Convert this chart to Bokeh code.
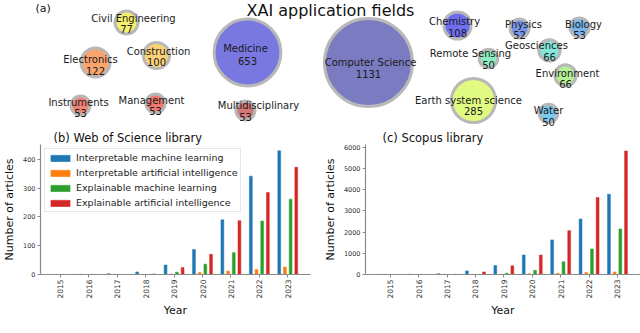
import numpy as np
from bokeh.plotting import figure
from bokeh.layouts import column, row
from bokeh.models import Range1d, FixedTicker, Legend, LegendItem, Label, Title
from bokeh.embed import file_html
from bokeh.resources import INLINE
from bokeh.core.properties import value

FONT = "DejaVu Sans"

# ---------------- (a) bubble chart data ----------------
fields = ["Computer Science", "Medicine", "Earth system science", "Electronics",
          "Chemistry", "Construction", "Civil Engineering", "Geosciences",
          "Environment", "Instruments", "Management", "Multidisciplinary",
          "Biology", "Physics", "Remote Sensing", "Water"]
counts = [1131, 653, 285, 122, 108, 100, 77, 66, 66, 53, 53, 53, 53, 52, 50, 50]
bubble_colors = ["#7b7bc2", "#7878e0", "#e1fa82", "#faa56e", "#6e6ef0", "#fad278",
                 "#f5f06e", "#82e6dc", "#b4f096", "#f08278", "#f0786e", "#d27878",
                 "#78b4eb", "#7896eb", "#8cebbe", "#78c8f0"]
# packed-bubble layout positions (layout units)
bubble_x = [368, 247, 473, 95, 457, 156, 126, 549, 565, 80, 155, 245, 579, 519, 488, 548]
bubble_y = [62, 52, 100, 62, 25, 55, 22, 50, 75, 105, 103, 110, 27, 28, 58, 113]
name_dx = [2, -2, -5, -5, -3, 2, 7, -13, 2, -2, -4, 13, 4, 4, -18, 0]
name_dy = [0, -4, 0, -3, -4, -4, -4, -5, -2, -3, -3, -5, -3, -4, -5, -3]
value_dy = [11, 8, 10, 8, 7, 6, 6, 6, 8, 7, 7, 6, 7, 6, 6, 8]

# ---------------- (b), (c) bar chart data ----------------
years = [2015, 2016, 2017, 2018, 2019, 2020, 2021, 2022, 2023]
year_labels = ["2015", "2016", "2017", "2018", "2019", "2020", "2021", "2022", "2023"]
series_names = ["Interpretable machine learning", "Interpretable artificial intelligence",
                "Explainable machine learning", "Explainable artificial intelligence"]
series_colors = ["#1f77b4", "#ff7f0e", "#2ca02c", "#d62728"]

wos_iml = [0, 1, 3, 9, 33, 87, 190, 342, 430]
wos_iai = [0, 0, 0, 0, 2, 7, 12, 17, 26]
wos_eml = [0, 0, 0, 0, 8, 36, 76, 186, 262]
wos_eai = [0, 0, 0, 2, 24, 70, 187, 285, 373]

sco_iml = [5, 15, 40, 170, 420, 920, 1630, 2610, 3780]
sco_iai = [0, 2, 5, 5, 10, 30, 55, 100, 120]
sco_eml = [0, 0, 0, 5, 60, 195, 600, 1205, 2145]
sco_eai = [0, 0, 15, 120, 410, 915, 2065, 3622, 5812]

wos_yticks = [0, 100, 200, 300, 400]
sco_yticks = [0, 1000, 2000, 3000, 4000, 5000, 6000]

TOP_H = 128
BOT_H = 333 - TOP_H

# ---------------- top figure ----------------
top = figure(width=640, height=TOP_H, x_range=Range1d(0, 640), y_range=Range1d(TOP_H, 0),
             output_backend="svg", toolbar_location=None, min_border=0,
             x_axis_location=None, y_axis_location=None)
top.grid.visible = False
top.outline_line_color = None

rmax = 44.0
sizes = [2 * rmax * np.sqrt(c / max(counts)) for c in counts]
top.scatter(bubble_x, bubble_y, size=sizes, fill_color=bubble_colors, fill_alpha=1.0,
            line_color="#b8b8b8", line_width=3)
top.text([x + d for x, d in zip(bubble_x, name_dx)], [y + d for y, d in zip(bubble_y, name_dy)],
         text=fields, text_font=value(FONT), text_font_size="10px",
         text_align="center", text_baseline="middle", text_color="#1a1a1a")
top.text(bubble_x, [y + d for y, d in zip(bubble_y, value_dy)],
         text=[str(c) for c in counts], text_font=value(FONT), text_font_size="10px",
         text_align="center", text_baseline="middle", text_color="#1a1a1a")
top.add_layout(Label(x=330, y=10, text="XAI application fields", text_font=FONT,
                     text_font_size="16px", text_align="center", text_baseline="middle",
                     text_color="#111111"))
top.add_layout(Label(x=35, y=8, text="(a)", text_font=FONT, text_font_size="11px",
                     text_align="left", text_baseline="middle", text_color="#111111"))


def bar_fig(series, xr, yr, yticks, width, border_left, border_right, title, title_offset):
    p = figure(width=width, height=BOT_H, x_range=Range1d(*xr), y_range=Range1d(*yr),
               output_backend="svg", toolbar_location=None,
               min_border_left=border_left, min_border_right=border_right,
               min_border_top=0, min_border_bottom=59)
    p.title = Title(text=title, align="left", offset=title_offset, standoff=0,
                    text_font=FONT, text_font_size="11.5px", text_font_style="normal",
                    text_color="#111111")
    p.grid.visible = False
    p.outline_line_color = None
    renderers = []
    n = len(series)
    for k, (vals, col) in enumerate(zip(series, series_colors)):
        off = (k - (n - 1) / 2) * 0.2
        r = p.vbar(x=[y + off for y in years], top=vals, width=0.1,
                   fill_color=col, line_color=col, line_width=0.5)
        renderers.append(r)
    p.xaxis.ticker = FixedTicker(ticks=years)
    p.xaxis.major_label_overrides = {y: s for y, s in zip(years, year_labels)}
    p.xaxis.major_label_orientation = np.pi / 2
    p.yaxis.ticker = FixedTicker(ticks=yticks)
    for ax in (p.xaxis[0], p.yaxis[0]):
        ax.axis_line_color = "#8a8a8a"
        ax.axis_line_width = 1.2
        ax.major_tick_line_color = "#8a8a8a"
        ax.major_tick_in = 0
        ax.major_tick_out = 3
        ax.minor_tick_line_color = None
        ax.major_label_text_font = FONT
        ax.major_label_text_color = "#333333"
        ax.major_label_standoff = 2
        ax.axis_label_text_font = FONT
        ax.axis_label_text_font_size = "11px"
        ax.axis_label_text_font_style = "normal"
        ax.axis_label_text_color = "#111111"
    p.xaxis.major_label_text_font_size = "7.5px"
    p.yaxis.major_label_text_font_size = "6.5px"
    p.xaxis.axis_label = "Year"
    p.xaxis.axis_label_standoff = 2
    p.yaxis.axis_label = "Number of articles"
    p.yaxis.major_label_standoff = 2
    p.yaxis.axis_label_standoff = 4
    return p, renderers


pb, rb = bar_fig([wos_iml, wos_iai, wos_eml, wos_eai], (2014.30, 2023.80), (0, 452),
                 wos_yticks, 320, 37, 10, "(b) Web of Science library", 13)
legend = Legend(items=[LegendItem(label=nm, renderers=[r]) for nm, r in zip(series_names, rb)],
                location="top_left", margin=4, padding=3, spacing=4,
                glyph_width=24, glyph_height=8, label_height=10, label_standoff=4,
                label_text_font=FONT, label_text_font_size="9.5px", label_text_color="#222222",
                border_line_color="#d0d0d0", background_fill_alpha=0.85)
pb.add_layout(legend)

pc, rc = bar_fig([sco_iml, sco_iai, sco_eml, sco_eai], (2014.13, 2023.81), (0, 6120),
                 sco_yticks, 320, 43, 0, "(c) Scopus library", 17)

layout = column(top, row(pb, pc))
open("out.html", "w").write(file_html(layout, INLINE))
